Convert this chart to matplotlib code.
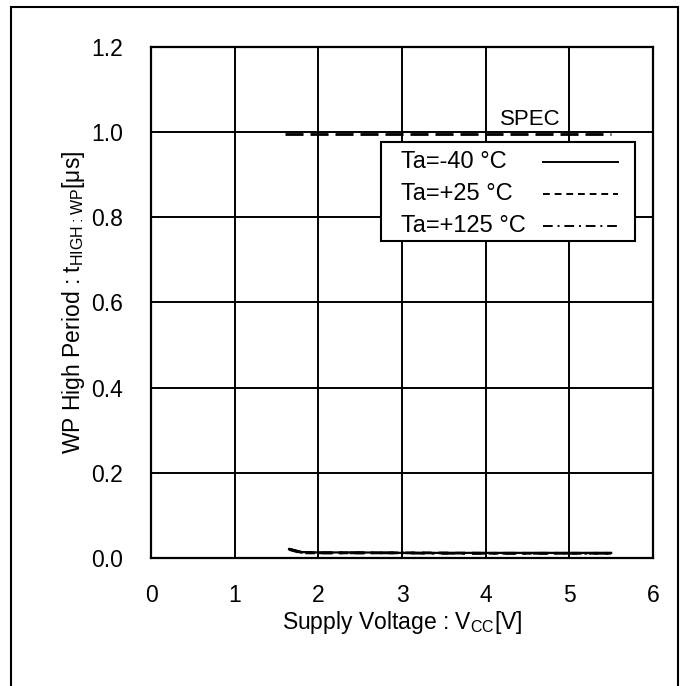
import matplotlib
matplotlib.use("Agg")
import matplotlib.pyplot as plt
from matplotlib.patches import Rectangle

plt.rcParams['font.family'] = ['Liberation Sans', 'DejaVu Sans']
plt.rcParams['mathtext.fontset'] = 'custom'
plt.rcParams['mathtext.rm'] = 'Liberation Sans'

# supply voltage [V]
vcc = [1.65, 1.8, 2.0, 2.5, 3.0, 3.3, 4.0, 4.5, 5.0, 5.5]
# WP high period [us]
t_m40 = [0.021, 0.014, 0.013, 0.013, 0.012, 0.012, 0.012, 0.012, 0.012, 0.012]
t_25 = [0.020, 0.012, 0.012, 0.012, 0.012, 0.012, 0.011, 0.011, 0.011, 0.011]
t_125 = [0.021, 0.013, 0.012, 0.012, 0.012, 0.011, 0.011, 0.011, 0.011, 0.011]
labels = ['Ta=-40 °C', 'Ta=+25 °C', 'Ta=+125 °C']

spec_v = [1.6, 5.5]
spec_t = [0.995, 0.995]

xticks = [0, 1, 2, 3, 4, 5, 6]
yticks = [0.0, 0.2, 0.4, 0.6, 0.8, 1.0, 1.2]

solid = '-'
dashed = (0, (3.5, 2.5))
dashdot = (0, (5, 2.5, 1, 2.5))

fig = plt.figure(figsize=(6.84, 6.86), dpi=100)
ax = fig.add_axes([0.2208, 0.1866, 0.7339, 0.7449])

ax.plot(spec_v, spec_t, color='black', lw=2.0, ls=(0, (6.5, 2.5)))
ax.text(4.53, 1.017, 'SPEC', fontsize=16, ha='center', va='baseline')

ax.plot(vcc, t_125, color='black', lw=2.0, ls=dashdot)
ax.plot(vcc, t_25, color='black', lw=2.0, ls=dashed)
ax.plot(vcc, t_m40, color='black', lw=1.6, ls=solid)

ax.set_xlim(0, 6)
ax.set_ylim(0, 1.2)
ax.set_xticks(xticks)
ax.set_yticks(yticks)
ax.set_yticklabels(['%.1f' % y for y in yticks])
ax.grid(True, color='black', lw=1.4)
ax.tick_params(length=0, labelsize=16.5)
ax.tick_params(axis='y', pad=20)
ax.tick_params(axis='x', pad=19)
for s in ax.spines.values():
    s.set_linewidth(1.6)

ax.set_xlabel('Supply Voltage : V$_{\\mathrm{CC}}$[V]', fontsize=16.5, labelpad=1)
ax.set_ylabel('WP High Period : t$_{\\mathrm{HIGH:WP}}$[μs]', fontsize=16.5, labelpad=3)

# legend box: labels on the left, line samples on the right
ax.add_patch(Rectangle((0.458, 0.620), 0.506, 0.194, transform=ax.transAxes,
                       facecolor='white', edgecolor='black', lw=1.5, zorder=5))
rows = [0.775, 0.712, 0.650]
for lab, ls, yy in zip(labels, [solid, dashed, dashdot], rows):
    ax.text(0.498, yy, lab, transform=ax.transAxes, fontsize=17,
            ha='left', va='center', zorder=6)
    ax.plot([0.781, 0.930], [yy, yy], transform=ax.transAxes,
            color='black', lw=1.4, ls=ls, zorder=6, clip_on=False)

# outer frame
fig.patches.append(Rectangle((11 / 684, -0.01), 667 / 684, 1.0 - 7 / 686 + 0.01,
                             transform=fig.transFigure, fill=False,
                             edgecolor='black', lw=1.5))

fig.savefig('out.png', dpi=100)
